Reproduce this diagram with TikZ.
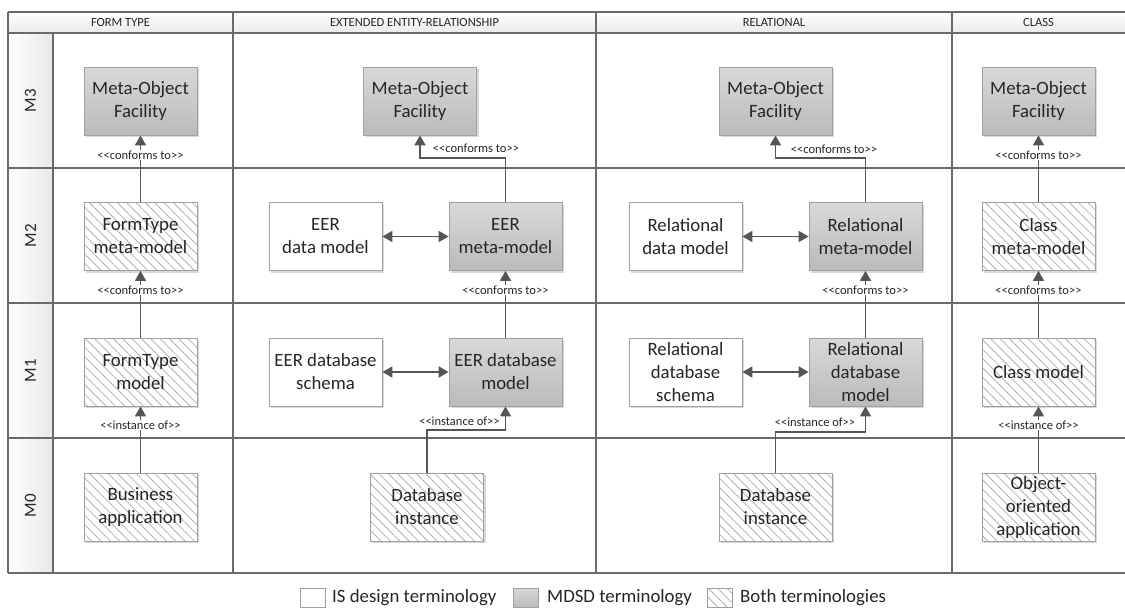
\documentclass[tikz,border=0pt]{standalone}
\usepackage{fontspec}
\setmainfont{Carlito}
\usetikzlibrary{arrows.meta,patterns.meta,shadows}
\definecolor{gridc}{HTML}{6A6A6A}
\definecolor{txt}{HTML}{262626}
\definecolor{bord}{HTML}{A0A0A0}
\definecolor{arr}{HTML}{555555}
\definecolor{hatch}{HTML}{B2B2B2}
\newcommand\stereo[1]{\textless\kern0pt\textless\kern0pt #1\textgreater\kern0pt\textgreater}
\tikzset{
  gridline/.style={draw=gridc, line width=1.5pt},
  box/.style={draw=bord, line width=0.8pt, minimum width=113pt, minimum height=68pt,
    inner sep=0pt, align=center, text=txt, font=\fontsize{18.8}{23}\selectfont,
    drop shadow={shadow xshift=2pt, shadow yshift=-2pt, fill=black!30, opacity=0.5}},
  isbox/.style={box, fill=white},
  mdsdbox/.style={box, top color=black!15, bottom color=black!27},
  bothbox/.style={box, preaction={fill=white},
    pattern={Lines[angle=-45, distance=6.6pt, line width=0.8pt]}, pattern color=hatch},
  conn/.style={draw=arr, line width=1.8pt, -{Triangle[length=10pt,width=11pt]}},
  dconn/.style={draw=arr, line width=1.8pt, {Triangle[length=10pt,width=11pt]}-{Triangle[length=10pt,width=11pt]}},
  lab/.style={font=\fontsize{12.5}{14}\selectfont, text=txt, fill=white, inner sep=1pt},
  hdr/.style={font=\fontsize{12.5}{14}\selectfont, text=txt},
  rowlab/.style={font=\fontsize{17}{20}\selectfont, text=txt, rotate=90},
  legtxt/.style={font=\fontsize{18.8}{23}\selectfont, text=txt, anchor=west, inner sep=0pt},
  legbox/.style={draw=bord, line width=0.8pt, minimum width=25pt, minimum height=19pt, inner sep=0pt}
}
\begin{document}
\begin{tikzpicture}[x=1pt,y=-1pt]
\useasboundingbox (0,0) rectangle (1125,608);
% backgrounds
\fill[top color=white, bottom color=black!8] (8,12) rectangle (1125,33);
\fill[left color=white, right color=black!9] (8,33) rectangle (53,573);
% grid
\draw[gridline] (8,12) -- (1125,12);
\draw[gridline] (8,33) -- (1125,33);
\draw[gridline] (8,168) -- (1125,168);
\draw[gridline] (8,303) -- (1125,303);
\draw[gridline] (8,438) -- (1125,438);
\draw[gridline] (8,573) -- (1125,573);
\draw[gridline] (8,12) -- (8,573);
\draw[gridline] (53,33) -- (53,573);
\draw[gridline] (233,12) -- (233,573);
\draw[gridline] (596,12) -- (596,573);
\draw[gridline] (952,12) -- (952,573);
% headers
\node[hdr] (h1) at (120.5,22.5) {FORM TYPE};
\node[hdr] (h2) at (414.5,22.5) {EXTENDED ENTITY-RELATIONSHIP};
\node[hdr] (h3) at (774,22.5) {RELATIONAL};
\node[hdr] (h4) at (1038.5,22.5) {CLASS};
\node[rowlab] (m3) at (30.5,100.5) {M3};
\node[rowlab] (m2) at (30.5,235.5) {M2};
\node[rowlab] (m1) at (30.5,370.5) {M1};
\node[rowlab] (m0) at (30.5,505.5) {M0};
% Form type column
\node[mdsdbox] (f3) at (140.5,101) {Meta-Object\\Facility};
\node[bothbox] (f2) at (140.5,236.5) {FormType\\meta-model};
\node[bothbox] (f1) at (140.5,372) {FormType\\model};
\node[bothbox] (f0) at (140.5,507) {Business\\application};
\draw[conn] (f2.north) -- (f3.south);
\draw[conn] (f1.north) -- (f2.south);
\draw[conn] (f0.north) -- (f1.south);
\node[lab] (lf3) at (140.5,155) {\stereo{conforms to}};
\node[lab] (lf2) at (140.5,290) {\stereo{conforms to}};
\node[lab] (lf1) at (140.5,425) {\stereo{instance of}};
% EER column
\node[mdsdbox] (e3) at (420,101) {Meta-Object\\Facility};
\node[isbox] (e2d) at (325.5,236.5) {EER\\data model};
\node[mdsdbox] (e2) at (505.5,236.5) {EER\\meta-model};
\node[isbox] (e1d) at (325.5,372) {EER database\\schema};
\node[mdsdbox] (e1) at (505.5,372) {EER database\\model};
\node[bothbox] (e0) at (427,507) {Database\\instance};
\draw[conn] (e2.north) -- ++(0,-44) -| (e3.south);
\draw[conn] (e1.north) -- (e2.south);
\draw[conn] (e0.north) -- ++(0,-43) -| (e1.south);
\draw[dconn] (e2d.east) -- (e2.west);
\draw[dconn] (e1d.east) -- (e1.west);
\node[lab] (le3) at (476,148) {\stereo{conforms to}};
\node[lab] (le2) at (505.5,290) {\stereo{conforms to}};
\node[lab] (le1) at (459.5,421) {\stereo{instance of}};
% Relational column
\node[mdsdbox] (r3) at (775.5,101) {Meta-Object\\Facility};
\node[isbox] (r2d) at (685.5,236.5) {Relational\\data model};
\node[mdsdbox] (r2) at (865.5,236.5) {Relational\\meta-model};
\node[isbox] (r1d) at (685.5,372) {Relational\\database\\schema};
\node[mdsdbox] (r1) at (865.5,372) {Relational\\database\\model};
\node[bothbox] (r0) at (775.5,507) {Database\\instance};
\draw[conn] (r2.north) -- ++(0,-44) -| (r3.south);
\draw[conn] (r1.north) -- (r2.south);
\draw[conn] (r0.north) -- ++(0,-41) -| (r1.south);
\draw[dconn] (r2d.east) -- (r2.west);
\draw[dconn] (r1d.east) -- (r1.west);
\node[lab] (lr3) at (834,149) {\stereo{conforms to}};
\node[lab] (lr2) at (865.5,290) {\stereo{conforms to}};
\node[lab] (lr1) at (815,422) {\stereo{instance of}};
% Class column
\node[mdsdbox] (c3) at (1038.5,101) {Meta-Object\\Facility};
\node[bothbox] (c2) at (1038.5,236.5) {Class\\meta-model};
\node[bothbox] (c1) at (1038.5,372) {Class model};
\node[bothbox] (c0) at (1038.5,507) {Object-\\oriented\\application};
\draw[conn] (c2.north) -- (c3.south);
\draw[conn] (c1.north) -- (c2.south);
\draw[conn] (c0.north) -- (c1.south);
\node[lab] (lc3) at (1038.5,155) {\stereo{conforms to}};
\node[lab] (lc2) at (1038.5,290) {\stereo{conforms to}};
\node[lab] (lc1) at (1038.5,425) {\stereo{instance of}};
% legend
\node[legbox, fill=white] (k1) at (312.5,597.5) {};
\node[legtxt] (t1) at (332,597.5) {IS design terminology};
\node[legbox, top color=black!15, bottom color=black!27] (k2) at (526,597.5) {};
\node[legtxt] (t2) at (547,597.5) {MDSD terminology};
\node[legbox, preaction={fill=white}, pattern={Lines[angle=-45, distance=6.6pt, line width=0.8pt]}, pattern color=hatch] (k3) at (720,597.5) {};
\node[legtxt] (t3) at (740,597.5) {Both terminologies};
\end{tikzpicture}
\end{document}
